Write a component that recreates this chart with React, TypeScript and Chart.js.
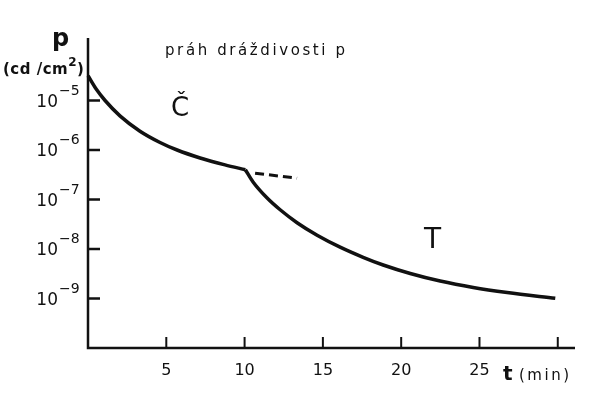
import { useEffect, useRef } from 'react';
import { Chart, registerables } from 'chart.js';

Chart.register(...registerables);

const FONT = '"DejaVu Sans", sans-serif';

// Dark adaptation curve: cone branch (Č), rod branch (T), cone continuation (dashed)
const coneTimes = [0, 0.51, 1.09, 2.04, 3.32, 4.6, 5.69, 7.16, 8.75, 10.05];
const coneValues = [3.16e-5, 1.72e-5, 1.0e-5, 4.9e-6, 2.4e-6, 1.42e-6, 1.0e-6, 6.9e-7, 5.0e-7, 4.0e-7];

const rodTimes = [10.05, 10.54, 11.44, 12.27, 13.35, 14.63, 16.1, 17.57, 18.85, 20.58, 22.49, 24.6, 26.77, 29.84];
const rodValues = [4.0e-7, 2.26e-7, 1.07e-7, 6.2e-8, 3.4e-8, 1.9e-8, 1.09e-8, 6.8e-9, 4.75e-9, 3.2e-9, 2.25e-9, 1.67e-9, 1.32e-9, 1.01e-9];

const dashTimes = [10.67, 13.35];
const dashValues = [3.4e-7, 2.7e-7];

const yTickExponents = [-5, -6, -7, -8, -9];
const xTickValues = [5, 10, 15, 20, 25, 30];
const xTickLabels = ['5', '10', '15', '20', '25', ''];

const X_MIN = 0;
const X_MAX = 31.1;
const Y_MIN = 1e-10;
const Y_MAX = Math.pow(10, -10 + 310 / 49.5);

const toPoints = (xs: number[], ys: number[]) => xs.map((x, i) => ({ x, y: ys[i] }));

export default function App() {
  const ref = useRef<HTMLCanvasElement>(null);

  useEffect(() => {
    if (!ref.current) return;
    const decor = {
      id: 'decor',
      beforeDraw(chart: any) {
        const ctx = chart.ctx;
        ctx.save();
        ctx.fillStyle = '#ffffff';
        ctx.fillRect(0, 0, chart.width, chart.height);
        ctx.restore();
      },
      afterDatasetsDraw(chart: any) {
        const ctx: CanvasRenderingContext2D = chart.ctx;
        const xs = chart.scales.x;
        const ys = chart.scales.y;
        const area = chart.chartArea;
        const x0 = xs.getPixelForValue(X_MIN);
        const y0 = ys.getPixelForValue(Y_MIN);
        ctx.save();
        ctx.strokeStyle = '#111';
        ctx.fillStyle = '#111';
        ctx.lineWidth = 2.5;
        ctx.lineCap = 'butt';
        // axes
        ctx.beginPath();
        ctx.moveTo(x0, area.top);
        ctx.lineTo(x0, y0);
        ctx.lineTo(area.right, y0);
        ctx.stroke();
        // y ticks
        yTickExponents.forEach((e) => {
          const y = ys.getPixelForValue(Math.pow(10, e));
          ctx.lineWidth = 2.5;
          ctx.beginPath();
          ctx.moveTo(x0, y);
          ctx.lineTo(x0 + 12, y);
          ctx.stroke();
          ctx.textAlign = 'right';
          ctx.textBaseline = 'alphabetic';
          ctx.font = `17px ${FONT}`;
          ctx.fillText('10', 58, y + 6);
          ctx.textAlign = 'left';
          ctx.font = `14px ${FONT}`;
          ctx.fillText('−' + String(-e), 59, y - 6);
        });
        // x ticks
        xTickValues.forEach((v, i) => {
          const x = xs.getPixelForValue(v);
          ctx.lineWidth = 2;
          ctx.beginPath();
          ctx.moveTo(x, y0);
          ctx.lineTo(x, y0 - 11);
          ctx.stroke();
          ctx.textAlign = 'center';
          ctx.textBaseline = 'alphabetic';
          ctx.font = `16px ${FONT}`;
          ctx.fillText(xTickLabels[i], x, y0 + 27);
        });
        // axis titles
        ctx.textAlign = 'left';
        ctx.font = `bold 20px ${FONT}`;
        ctx.fillText('t', 503, y0 + 32);
        ctx.font = `15px ${FONT}`;
        (ctx as any).letterSpacing = '2.5px';
        ctx.fillText('(min)', 519, y0 + 32);
        (ctx as any).letterSpacing = '0px';

        ctx.font = `bold 24px ${FONT}`;
        ctx.fillText('p', 52, 46);
        ctx.font = `bold 15px ${FONT}`;
        (ctx as any).letterSpacing = '0.5px';
        ctx.fillText('(cd /cm', 3, 74);
        const w = ctx.measureText('(cd /cm').width;
        ctx.font = `bold 12px ${FONT}`;
        ctx.fillText('2', 3 + w, 66);
        const w2 = ctx.measureText('2').width;
        ctx.font = `bold 15px ${FONT}`;
        ctx.fillText(')', 3 + w + w2, 74);

        ctx.font = `15px ${FONT}`;
        (ctx as any).letterSpacing = '2.6px';
        ctx.fillText('práh dráždivosti p', 165, 55);
        (ctx as any).letterSpacing = '0px';

        ctx.font = `26px ${FONT}`;
        ctx.fillText('Č', 171, 116);
        ctx.font = `28px ${FONT}`;
        ctx.fillText('T', 424, 248);
        ctx.restore();
      },
    };

    const chart = new Chart(ref.current, {
      type: 'line',
      data: {
        datasets: [
          {
            data: toPoints(coneTimes, coneValues),
            borderColor: '#111',
            borderWidth: 3.5,
            pointRadius: 0,
            cubicInterpolationMode: 'monotone',
            clip: false as any,
          },
          {
            data: toPoints(rodTimes, rodValues),
            borderColor: '#111',
            borderWidth: 3.5,
            pointRadius: 0,
            cubicInterpolationMode: 'monotone',
            clip: false as any,
          },
          {
            data: toPoints(dashTimes, dashValues),
            borderColor: '#111',
            borderWidth: 3,
            borderDash: [9, 5],
            pointRadius: 0,
            clip: false as any,
          },
        ],
      },
      options: {
        animation: false,
        responsive: false,
        devicePixelRatio: 1,
        layout: { padding: { left: 88, top: 38, right: 25, bottom: 50 } },
        scales: {
          x: { type: 'linear', min: X_MIN, max: X_MAX, display: false },
          y: { type: 'logarithmic', min: Y_MIN, max: Y_MAX, display: false },
        },
        plugins: { legend: { display: false }, tooltip: { enabled: false } },
      },
      plugins: [decor],
    });
    return () => chart.destroy();
  }, []);

  return (
    <div style={{ position: 'fixed', left: 0, top: 0, width: 600, height: 398, background: '#fff' }}>
      <canvas ref={ref} width={600} height={398} style={{ display: 'block', width: 600, height: 398 }} />
    </div>
  );
}
